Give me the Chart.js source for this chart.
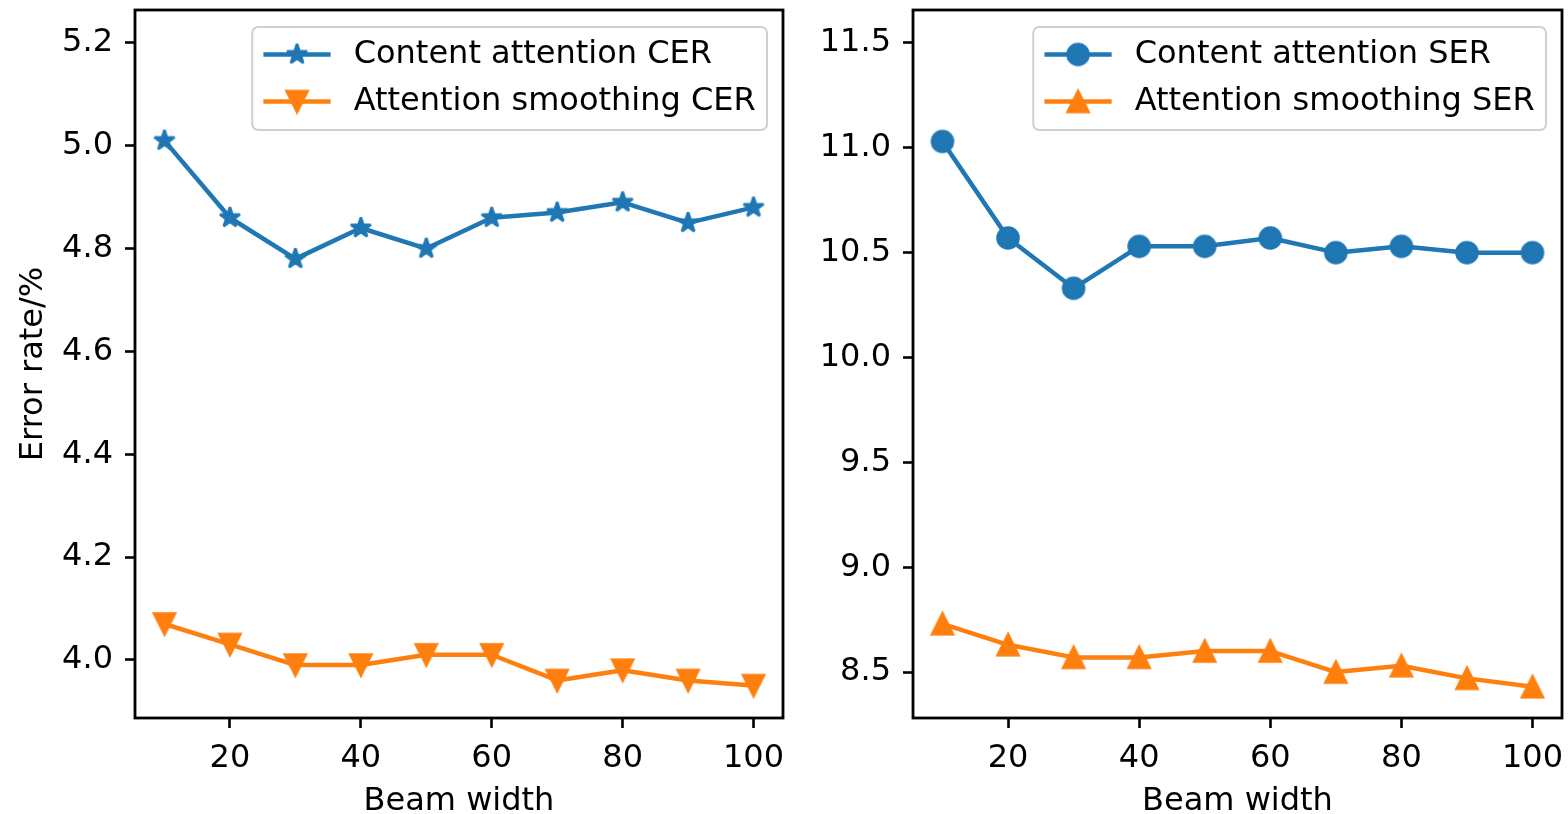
<!DOCTYPE html>
<html>
<head>
<meta charset="utf-8">
<script src="https://cdn.jsdelivr.net/npm/chart.js@4.4.1/dist/chart.umd.min.js"></script>
<style>
  html, body { margin: 0; padding: 0; background: #fff; overflow: hidden; }
  #wrap { position: relative; width: 1568px; height: 814px; }
  canvas { position: absolute; top: 0; }
</style>
</head>
<body>
<div id="wrap">
  <canvas id="cer" width="800" height="814" style="left:0"></canvas>
  <canvas id="ser" width="768" height="814" style="left:800px"></canvas>
</div>
<script>
// Beam widths evaluated
const beamWidths = [10, 20, 30, 40, 50, 60, 70, 80, 90, 100];

// Character error rate (%)
const contentCER   = [5.01, 4.86, 4.78, 4.84, 4.80, 4.86, 4.87, 4.89, 4.85, 4.88];
const smoothingCER = [4.07, 4.03, 3.99, 3.99, 4.01, 4.01, 3.96, 3.98, 3.96, 3.95];

// Sentence error rate (%)
const contentSER   = [11.03, 10.57, 10.33, 10.53, 10.53, 10.57, 10.50, 10.53, 10.50, 10.50];
const smoothingSER = [8.73, 8.63, 8.57, 8.57, 8.60, 8.60, 8.50, 8.53, 8.47, 8.43];

// Tick values
const beamTicks = [20, 40, 60, 80, 100];
const cerTicks  = [4.0, 4.2, 4.4, 4.6, 4.8, 5.0, 5.2];
const serTicks  = [8.5, 9.0, 9.5, 10.0, 10.5, 11.0, 11.5];

const FONT = '"DejaVu Sans", sans-serif';
const FS = 32;
const BLUE = '#1f77b4';
const ORANGE = '#ff7f0e';

// Filled marker glyphs (circle, star, up/down triangles) with a same-colour edge
function markerCanvas(kind, color) {
  const ms = 21, edge = 2.6, size = 34;
  const c = document.createElement('canvas');
  c.width = size; c.height = size;
  const g = c.getContext('2d');
  g.translate(size / 2, size / 2);
  const r = ms / 2;
  g.beginPath();
  if (kind === 'circle') {
    g.arc(0, 0, r, 0, Math.PI * 2);
  } else if (kind === 'star') {
    for (let i = 0; i < 10; i++) {
      const a = -Math.PI / 2 + i * Math.PI / 5;
      const rad = (i % 2) ? r * 0.381966 : r;
      const px = Math.cos(a) * rad, py = Math.sin(a) * rad;
      if (i === 0) g.moveTo(px, py); else g.lineTo(px, py);
    }
  } else if (kind === 'down') {
    g.moveTo(0, r); g.lineTo(-r, -r); g.lineTo(r, -r);
  } else if (kind === 'up') {
    g.moveTo(0, -r); g.lineTo(-r, r); g.lineTo(r, r);
  }
  g.closePath();
  g.fillStyle = color;
  g.fill();
  g.lineWidth = edge;
  g.strokeStyle = color;
  g.lineJoin = kind === 'star' ? 'bevel' : 'miter';
  g.stroke();
  return c;
}

// Black box around the plotting area
const framePlugin = {
  id: 'frame',
  afterDatasetsDraw(chart) {
    const { ctx, chartArea: a } = chart;
    ctx.save();
    ctx.strokeStyle = '#000';
    ctx.lineWidth = 2.8;
    ctx.strokeRect(a.left, a.top, a.right - a.left, a.bottom - a.top);
    ctx.restore();
  }
};

// Legend box in the upper right corner of the plotting area
const boxLegend = {
  id: 'boxLegend',
  afterDraw(chart, args, opts) {
    const { ctx, chartArea: a } = chart;
    const fs = opts.fontSize;
    ctx.save();
    ctx.font = fs + 'px ' + FONT;
    const sets = chart.data.datasets;
    const textW = Math.max(...sets.map(d => ctx.measureText(d.label).width));
    const pad = 0.35 * fs, handle = 2.1 * fs, gap = 0.72 * fs;
    const w = pad + handle + gap + textW + pad;
    const h = 3.22 * fs;
    const x = a.right - 0.5 * fs - w;
    const y = a.top + 0.53 * fs;
    ctx.beginPath();
    ctx.roundRect(x, y, w, h, 6);
    ctx.fillStyle = 'rgba(255,255,255,0.8)';
    ctx.fill();
    ctx.lineWidth = 2;
    ctx.strokeStyle = '#d0d0d0';
    ctx.stroke();
    sets.forEach((d, i) => {
      const cy = y + 0.86 * fs + i * 1.47 * fs;
      const x0 = x + pad, x1 = x0 + handle;
      ctx.beginPath();
      ctx.moveTo(x0, cy); ctx.lineTo(x1, cy);
      ctx.lineWidth = 4.5;
      ctx.lineCap = 'butt';
      ctx.strokeStyle = d.borderColor;
      ctx.stroke();
      const m = d.pointStyle;
      ctx.drawImage(m, (x0 + x1) / 2 - m.width / 2, cy - m.height / 2);
      ctx.fillStyle = '#000';
      ctx.textBaseline = 'middle';
      ctx.textAlign = 'left';
      ctx.fillText(d.label, x1 + gap, cy);
    });
    ctx.restore();
  }
};

function makeChart(id, cfg) {
  return new Chart(document.getElementById(id), {
    type: 'line',
    data: {
      datasets: cfg.series.map(s => ({
        label: s.label,
        data: beamWidths.map((x, i) => ({ x: x, y: s.values[i] })),
        borderColor: s.color,
        backgroundColor: s.color,
        borderWidth: 4.5,
        borderJoinStyle: 'round',
        borderCapStyle: 'square',
        pointStyle: markerCanvas(s.marker, s.color),
        pointRadius: 10,
        pointHoverRadius: 10,
        tension: 0,
        fill: false,
        clip: false
      }))
    },
    options: {
      responsive: false,
      animation: false,
      devicePixelRatio: 1,
      events: [],
      layout: { autoPadding: false, padding: { left: 0, top: 10, right: cfg.padRight, bottom: 0 } },
      plugins: {
        legend: { display: false },
        tooltip: { enabled: false },
        boxLegend: { fontSize: FS }
      },
      scales: {
        x: {
          type: 'linear',
          min: 5.5,
          max: 104.5,
          afterBuildTicks: s => { s.ticks = beamTicks.map(v => ({ value: v })); },
          afterFit: s => { s.height = 96; s.paddingLeft = 0; s.paddingRight = 0; },
          grid: { drawOnChartArea: false, drawTicks: true, tickLength: 10, tickWidth: 2.6, tickColor: '#000' },
          border: { display: false },
          ticks: { color: '#000', font: { family: FONT, size: FS }, padding: 11, maxRotation: 0, autoSkip: false,
                   callback: v => String(v) },
          title: { display: true, text: 'Beam width', color: '#000',
                   font: { family: FONT, size: FS, lineHeight: 0.8 }, padding: { top: 0, bottom: 0 } }
        },
        y: {
          type: 'linear',
          min: cfg.yMin,
          max: cfg.yMax,
          afterBuildTicks: s => { s.ticks = cfg.yTicks.map(v => ({ value: v })); },
          afterFit: s => { s.width = cfg.axisWidth; s.paddingTop = 0; s.paddingBottom = 0; },
          grid: { drawOnChartArea: false, drawTicks: true, tickLength: 10, tickWidth: 2.6, tickColor: '#000' },
          border: { display: false },
          ticks: { color: '#000', font: { family: FONT, size: FS }, padding: 12, autoSkip: false,
                   callback: v => Number(v).toFixed(1) },
          title: { display: !!cfg.yTitle, text: cfg.yTitle || '', color: '#000',
                   font: { family: FONT, size: FS, lineHeight: 1 }, padding: { top: 18, bottom: 0 } }
        }
      }
    },
    plugins: [framePlugin, boxLegend]
  });
}

makeChart('cer', {
  series: [
    { label: 'Content attention CER', values: contentCER, color: BLUE, marker: 'star' },
    { label: 'Attention smoothing CER', values: smoothingCER, color: ORANGE, marker: 'down' }
  ],
  yMin: 3.887, yMax: 5.264, yTicks: cerTicks,
  yTitle: 'Error rate/%',
  axisWidth: 135, padRight: 17
});

makeChart('ser', {
  series: [
    { label: 'Content attention SER', values: contentSER, color: BLUE, marker: 'circle' },
    { label: 'Attention smoothing SER', values: smoothingSER, color: ORANGE, marker: 'up' }
  ],
  yMin: 8.281, yMax: 11.657, yTicks: serTicks,
  yTitle: null,
  axisWidth: 113, padRight: 6
});
</script>
</body>
</html>
